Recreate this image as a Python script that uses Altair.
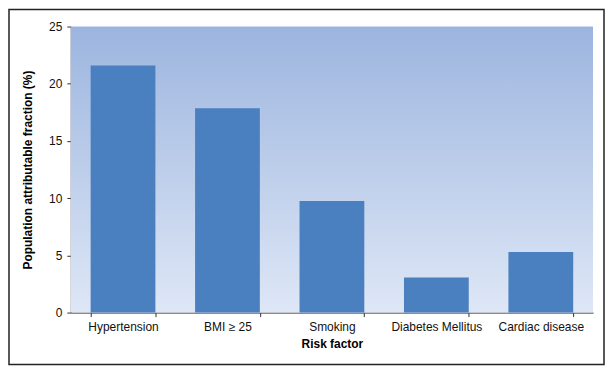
import altair as alt
import pandas as pd

categories = ["Hypertension", "BMI \u2265 25", "Smoking", "Diabetes Mellitus", "Cardiac disease"]
values = [21.6, 17.85, 9.75, 3.07, 5.3]

df = pd.DataFrame({"factor": categories, "paf": values})

W, H = 524, 287

xenc = alt.X("factor:N", sort=categories, title="Risk factor",
             scale=alt.Scale(paddingInner=0.38, paddingOuter=0.19),
             axis=alt.Axis(labelAngle=0, tickBand="extent", tickSize=4,
                           labelPadding=5, titlePadding=6, domainColor="#333",
                           tickColor="#333", labelColor="#111", titleColor="#000",
                           labelFontSize=12, titleFontSize=12, titleFontWeight="bold",
                           labelFont="Liberation Sans", titleFont="Liberation Sans"))
yenc = alt.Y("paf:Q", title="Population attributable fraction (%)",
             scale=alt.Scale(domain=[0, 25], nice=False),
             axis=alt.Axis(values=[0, 5, 10, 15, 20, 25], grid=False, tickSize=4,
                           labelPadding=5, titlePadding=14, domainColor="#333",
                           tickColor="#333", labelColor="#111", titleColor="#000",
                           labelFontSize=12, titleFontSize=12, titleFontWeight="bold",
                           labelFont="Liberation Sans", titleFont="Liberation Sans"))

grad = alt.LinearGradient(
    gradient="linear",
    stops=[alt.GradientStop(offset=0, color="#9cb5df"),
           alt.GradientStop(offset=1, color="#dee7f6")],
    x1=0, x2=0, y1=0, y2=1)

bg = alt.Chart(alt.Data(values=[{}])).mark_rect(fill=grad).encode(
    x=alt.value(0), x2=alt.value(W), y=alt.value(0), y2=alt.value(H))

border = alt.Chart(alt.Data(values=[{}])).mark_rect(
    fill=None, stroke="#222", strokeWidth=1.5, fillOpacity=0).encode(
    x=alt.value(-62), x2=alt.value(535), y=alt.value(-17), y2=alt.value(339))

bars = alt.Chart(df).mark_bar(color="#4a7fc0").encode(x=xenc, y=yenc)

chart = alt.layer(bg, bars, border).properties(
    width=W, height=H, padding=0, background="white"
).configure_view(stroke=None)

chart.save("out.html", embed_options={"renderer": "svg", "actions": False})
